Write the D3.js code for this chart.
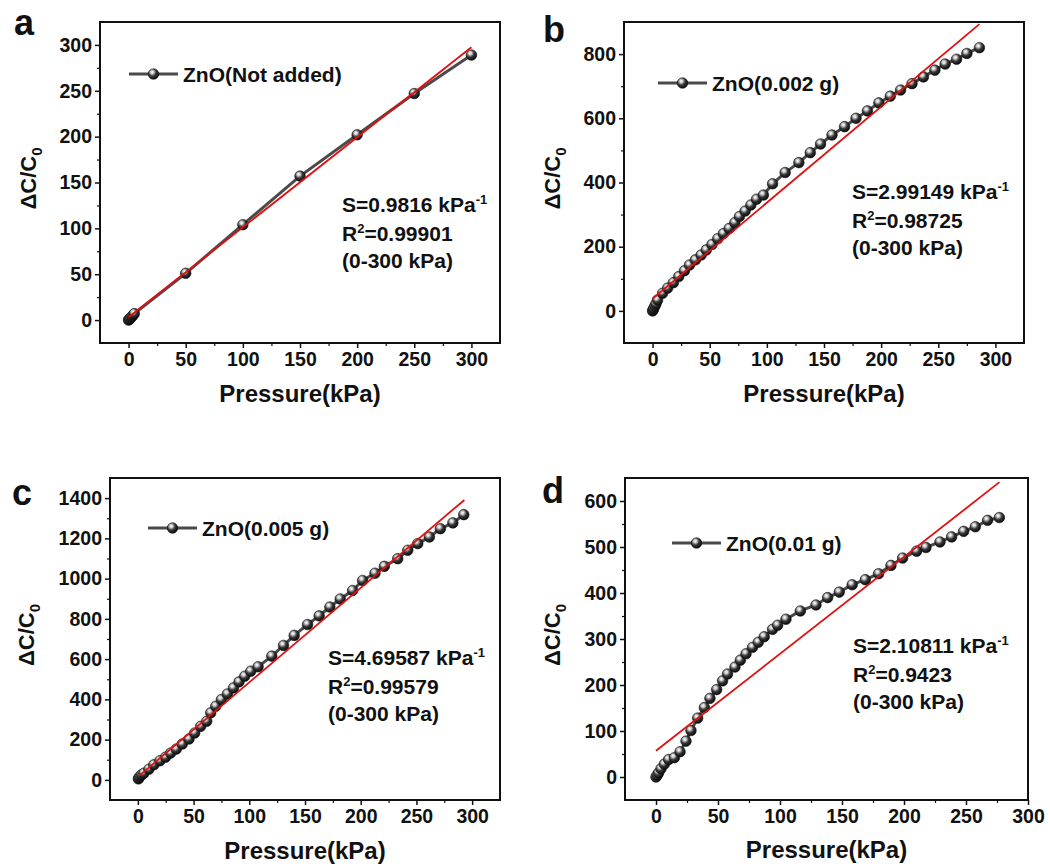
<!DOCTYPE html>
<html>
<head>
<meta charset="utf-8">
<script src="https://cdn.jsdelivr.net/npm/d3@7"></script>
<style>
  html, body { margin: 0; padding: 0; background: #fff; }
  svg text { font-family: "Liberation Sans", Arial, sans-serif; font-weight: bold; fill: #111; }
</style>
</head>
<body>
<svg id="chart" width="1050" height="866"></svg>
<script>
// ---------- data ----------
const panelLetters = ["a", "b", "c", "d"];
const legendLabels = ["ZnO(Not added)", "ZnO(0.002 g)", "ZnO(0.005 g)", "ZnO(0.01 g)"];
const xTickValues = [0, 50, 100, 150, 200, 250, 300];
const yTicksA = [0, 50, 100, 150, 200, 250, 300];
const yTicksB = [0, 200, 400, 600, 800];
const yTicksC = [0, 200, 400, 600, 800, 1000, 1200, 1400];
const yTicksD = [0, 100, 200, 300, 400, 500, 600];

const seriesA = [[0,0],[0.5,0.5],[1,1.2],[2,2.6],[3,4],[4,5.5],[5,7],[50,51],[100,104],[150,157],[200,202],[250,247],[300,289]];
const seriesB = [[0,0],[0.5,3],[1,8],[2,15],[3,22],[4.4,34],[8.8,55],[13.2,71],[18.2,88],[22.9,107],[27.9,125],[32.3,143],[37.5,159],[42.5,174],[47,190],[52,207],[57,225],[62,241],[67,257],[72,275],[76,294],[81,311],[86,330],[91,348],[97,361],[105,396],[116,431],[128,462],[138,493],[147,520],[157,548],[168,574],[178,600],[188,623],[198,648],[208,669],[217,688],[227,708],[237,729],[247,750],[256,769],[266,784],[275,802],[286,820]];
const seriesC = [[0.5,5],[0.9,10],[2,18],[3.5,26],[5.4,33],[9.9,53],[14.4,75],[19.8,95],[24.9,113],[29.4,133],[34.5,153],[39.9,178],[45.9,203],[51,233],[56.4,266],[61.8,291],[65.4,333],[69.9,366],[75,399],[80.4,427],[85.8,457],[90.8,487],[95.9,515],[101.3,540],[107.9,562],[120.2,615],[130.7,668],[140.3,718],[152.3,772],[162.7,815],[172.3,859],[181.6,899],[192.7,941],[201.7,991],[212.8,1027],[221.2,1061],[233.2,1099],[242.2,1141],[251.2,1174],[261.6,1207],[271.5,1248],[282.7,1277],[292.5,1318]];
const seriesD = [[0,0],[1,4],[2.1,9],[4,18],[6.7,28],[10.2,38],[14.8,42],[19.4,55],[24.2,78],[28.2,101],[33.6,128],[39,151],[43.5,171],[48.9,190],[53.7,209],[57.7,224],[63.7,239],[68,254],[72.6,268],[77.9,282],[82.5,293],[87.3,305],[94,321],[98.1,330],[104.8,343],[116.4,361],[129,374],[138.4,390],[147.8,402],[158.2,418],[168.8,429],[179.5,442],[189.5,460],[198.9,476],[210.2,491],[217.7,499],[229,511],[238.4,522],[248.1,534],[257.5,544],[267.4,558],[276.9,564]];

const fitSlopes = [0.9816, 2.99149, 4.69587, 2.10811];
const fitIntercepts = [3, 38, 15, 57];
const fitXRanges = [[0, 300], [0, 286], [1, 293], [0, 277]];
const fitTextS = ["S=0.9816 kPa", "S=2.99149 kPa", "S=4.69587 kPa", "S=2.10811 kPa"];
const fitTextR = ["=0.99901", "=0.98725", "=0.99579", "=0.9423"];
const fitRangeText = "(0-300 kPa)";

// ---------- layout ----------
const layouts = [
  { left: 100, right: 500, top: 22, bottom: 343, xDom: [-25, 325], yDom: [-25, 325], yTicks: yTicksA, yMinorStep: 25,
    letter: [14, 35], legend: [129, 74], note: [342, 212], xTitleY: 402, yTitleX: 36 },
  { left: 624, right: 1024, top: 22, bottom: 343, xDom: [-25, 325], yDom: [-100, 900], yTicks: yTicksB, yMinorStep: 100,
    letter: [543, 42], legend: [658, 83], note: [852, 199], xTitleY: 402, yTitleX: 560 },
  { left: 110, right: 500, top: 478, bottom: 800, xDom: [-25, 325], yDom: [-100, 1500], yTicks: yTicksC, yMinorStep: 100,
    letter: [12, 505], legend: [148, 528], note: [328, 665], xTitleY: 859, yTitleX: 34 },
  { left: 625, right: 1028, top: 478, bottom: 800, xDom: [-25, 300], yDom: [-50, 650], yTicks: yTicksD, yMinorStep: 50,
    letter: [542, 503], legend: [672, 543], note: [853, 653], xTitleY: 858, yTitleX: 560 }
];
const allSeries = [seriesA, seriesB, seriesC, seriesD];

const svg = d3.select("#chart");
const defs = svg.append("defs");
const grad = defs.append("radialGradient").attr("id", "ball")
  .attr("cx", "0.38").attr("cy", "0.35").attr("r", "0.65").attr("fx", "0.38").attr("fy", "0.32");
grad.append("stop").attr("offset", "0%").attr("stop-color", "#ffffff");
grad.append("stop").attr("offset", "22%").attr("stop-color", "#d0d0d0");
grad.append("stop").attr("offset", "55%").attr("stop-color", "#3a3a3a");
grad.append("stop").attr("offset", "100%").attr("stop-color", "#0a0a0a");

const lineColor = "#4a4a4a";
const markerR = 5.3;

layouts.forEach((L, i) => {
  const g = svg.append("g");
  const x = d3.scaleLinear().domain(L.xDom).range([L.left, L.right]);
  const y = d3.scaleLinear().domain(L.yDom).range([L.bottom, L.top]);

  const xMinor = d3.range(25, L.xDom[1], 50);
  const yMinor = d3.range(L.yMinorStep, L.yDom[1], L.yMinorStep * 2);

  const xAxis = d3.axisBottom(x).tickValues(xTickValues).tickSize(5).tickPadding(4).tickFormat(d3.format("d"));
  const yAxis = d3.axisLeft(y).tickValues(L.yTicks).tickSize(5).tickPadding(3).tickFormat(d3.format("d"));

  const gx = g.append("g").attr("transform", `translate(0,${L.bottom})`).call(xAxis);
  const gy = g.append("g").attr("transform", `translate(${L.left},0)`).call(yAxis);
  [gx, gy].forEach(a => {
    a.select(".domain").remove();
    a.selectAll("line").attr("stroke", "#111").attr("stroke-width", 1.5);
    a.selectAll("text").style("font-size", "19.5px").attr("fill", "#111");
  });
  g.append("g").attr("transform", `translate(0,${L.bottom})`)
    .call(d3.axisBottom(x).tickValues(xMinor).tickSize(3).tickFormat(""))
    .call(a => { a.select(".domain").remove(); a.selectAll("line").attr("stroke", "#111").attr("stroke-width", 1.2); });
  g.append("g").attr("transform", `translate(${L.left},0)`)
    .call(d3.axisLeft(y).tickValues(yMinor).tickSize(3).tickFormat(""))
    .call(a => { a.select(".domain").remove(); a.selectAll("line").attr("stroke", "#111").attr("stroke-width", 1.2); });

  g.append("rect").attr("x", L.left).attr("y", L.top)
    .attr("width", L.right - L.left).attr("height", L.bottom - L.top)
    .attr("fill", "none").attr("stroke", "#111").attr("stroke-width", 2);

  const data = allSeries[i];
  g.append("path").datum(data)
    .attr("d", d3.line().x(d => x(d[0])).y(d => y(d[1])))
    .attr("fill", "none").attr("stroke", lineColor).attr("stroke-width", 3);
  g.selectAll("circle.pt").data(data).join("circle").attr("class", "pt")
    .attr("cx", d => x(d[0])).attr("cy", d => y(d[1])).attr("r", markerR)
    .attr("fill", "url(#ball)").attr("stroke", "#111").attr("stroke-width", 0.6);

  const xr = fitXRanges[i];
  const fitPts = xr.map(v => [v, fitSlopes[i] * v + fitIntercepts[i]]);
  g.append("path").datum(fitPts)
    .attr("d", d3.line().x(d => x(d[0])).y(d => y(d[1])))
    .attr("fill", "none").attr("stroke", "#e01010").attr("stroke-width", 1.8);

  const [lx, ly] = L.legend;
  g.append("line").attr("x1", lx).attr("x2", lx + 49).attr("y1", ly).attr("y2", ly)
    .attr("stroke", lineColor).attr("stroke-width", 3);
  g.append("circle").attr("cx", lx + 24.5).attr("cy", ly).attr("r", markerR)
    .attr("fill", "url(#ball)").attr("stroke", "#111").attr("stroke-width", 0.6);
  g.append("text").attr("x", lx + 54).attr("y", ly + 7.5).style("font-size", "21px").text(legendLabels[i]);

  const [nx, ny] = L.note;
  const t1 = g.append("text").attr("x", nx).attr("y", ny).style("font-size", "21px");
  t1.append("tspan").text(fitTextS[i]);
  t1.append("tspan").attr("dy", -8).style("font-size", "13px").text("-1");
  const t2 = g.append("text").attr("x", nx).attr("y", ny + 29).style("font-size", "21px");
  t2.append("tspan").text("R");
  t2.append("tspan").attr("dy", -8).style("font-size", "13px").text("2");
  t2.append("tspan").attr("dy", 8).text(fitTextR[i]);
  g.append("text").attr("x", nx).attr("y", ny + 56).style("font-size", "21px").text(fitRangeText);

  g.append("text").attr("x", (L.left + L.right) / 2).attr("y", L.xTitleY)
    .attr("text-anchor", "middle").style("font-size", "24px").text("Pressure(kPa)");
  const yt = g.append("text")
    .attr("transform", `translate(${L.yTitleX},${(L.top + L.bottom) / 2 - 4}) rotate(-90)`)
    .attr("text-anchor", "middle").style("font-size", "22px");
  yt.append("tspan").text("ΔC/C");
  yt.append("tspan").attr("dy", 6).style("font-size", "15px").text("0");

  svg.append("text").attr("x", L.letter[0]).attr("y", L.letter[1])
    .style("font-size", "36px").text(panelLetters[i]);
});
</script>
</body>
</html>
